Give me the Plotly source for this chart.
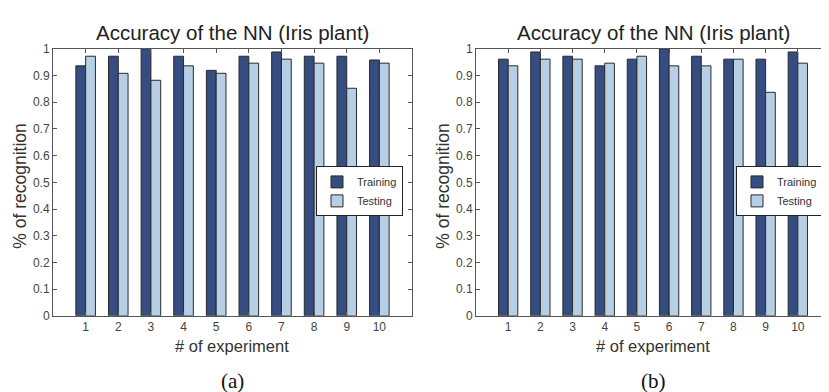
import plotly.graph_objects as go

experiments = [1, 2, 3, 4, 5, 6, 7, 8, 9, 10]
train_a = [0.936, 0.972, 1.000, 0.972, 0.919, 0.972, 0.988, 0.972, 0.972, 0.958]
test_a = [0.972, 0.908, 0.882, 0.936, 0.908, 0.946, 0.961, 0.946, 0.852, 0.946]
train_b = [0.961, 0.988, 0.972, 0.936, 0.961, 1.000, 0.972, 0.961, 0.961, 0.988]
test_b = [0.936, 0.961, 0.961, 0.946, 0.972, 0.936, 0.936, 0.961, 0.837, 0.946]
y_ticks = [0, 0.1, 0.2, 0.3, 0.4, 0.5, 0.6, 0.7, 0.8, 0.9, 1]
y_tick_text = ["0", "0.1", "0.2", "0.3", "0.4", "0.5", "0.6", "0.7", "0.8", "0.9", "1"]

C_TRAIN = "#354d80"
C_TEST = "#b6cfe5"
EDGE = "#2a2a2a"
W, H = 829, 392
SANS = "Liberation Sans"

fig = go.Figure()
for xa, ya, lg, tr, te in [("x", "y", "legend", train_a, test_a),
                           ("x2", "y2", "legend2", train_b, test_b)]:
    fig.add_trace(go.Bar(x=experiments, y=tr, name="Training", xaxis=xa, yaxis=ya,
                         legend=lg, marker=dict(color=C_TRAIN, line=dict(color=EDGE, width=1))))
    fig.add_trace(go.Bar(x=experiments, y=te, name="Testing", xaxis=xa, yaxis=ya,
                         legend=lg, marker=dict(color=C_TEST, line=dict(color=EDGE, width=1))))

dom_y = [1 - 312 / H, 1 - 35 / H]
doms_x = [[45 / W, 404 / W], [468 / W, 822 / W]]

axis_common = dict(showgrid=False, zeroline=False, showline=True, linecolor="#555555",
                   linewidth=1, mirror="ticks", ticks="inside", ticklen=4, tickcolor="#555555",
                   tickfont=dict(family=SANS, size=12, color="#444444"))

layout = dict(width=W, height=H, margin=dict(l=0, r=0, t=0, b=0),
              paper_bgcolor="white", plot_bgcolor="white",
              barmode="group", bargap=0.4, bargroupgap=0.0, showlegend=True)
for i, (xk, yk) in enumerate([("xaxis", "yaxis"), ("xaxis2", "yaxis2")]):
    anchor_y = "y" if i == 0 else "y2"
    anchor_x = "x" if i == 0 else "x2"
    layout[xk] = dict(axis_common, domain=doms_x[i], anchor=anchor_y, range=[0, 11],
                      tickmode="array", tickvals=experiments,
                      ticktext=[str(e) for e in experiments])
    layout[yk] = dict(axis_common, domain=dom_y, anchor=anchor_x, range=[0, 1],
                      tickmode="array", tickvals=y_ticks, ticktext=y_tick_text)

legend_common = dict(bgcolor="white", bordercolor="#222222", borderwidth=1,
                     font=dict(family=SANS, size=11, color="#333333"),
                     xanchor="right", yanchor="top", y=1 - 157 / H,
                     tracegroupgap=0, itemwidth=30)
layout["legend"] = dict(legend_common, x=395 / W)
layout["legend2"] = dict(legend_common, x=815 / W)
fig.update_layout(**layout)

titles = [((45 + 404) / 2, "(a)"), ((468 + 822) / 2, "(b)")]
for cx, lab in titles:
    fig.add_annotation(x=cx / W, y=1 - 18 / H, xref="paper", yref="paper",
                       text="Accuracy of the NN (Iris plant)", showarrow=False,
                       font=dict(family=SANS, size=20.5, color="#222222"),
                       xanchor="center", yanchor="middle")
    fig.add_annotation(x=cx / W, y=1 - 343 / H, xref="paper", yref="paper",
                       text="# of experiment", showarrow=False,
                       font=dict(family=SANS, size=16.5, color="#333333"),
                       xanchor="center", yanchor="middle")
    fig.add_annotation(x=cx / W, y=1 - 380 / H, xref="paper", yref="paper",
                       text=lab, showarrow=False,
                       font=dict(family="Liberation Serif", size=21, color="#111111"),
                       xanchor="center", yanchor="middle")

for lx in [12, 435]:
    fig.add_annotation(x=lx / W, y=1 - 177 / H, xref="paper", yref="paper",
                       text="% of recognition", showarrow=False, textangle=-90,
                       font=dict(family=SANS, size=17.5, color="#333333"),
                       xanchor="center", yanchor="middle")

fig.write_html("out.html")
